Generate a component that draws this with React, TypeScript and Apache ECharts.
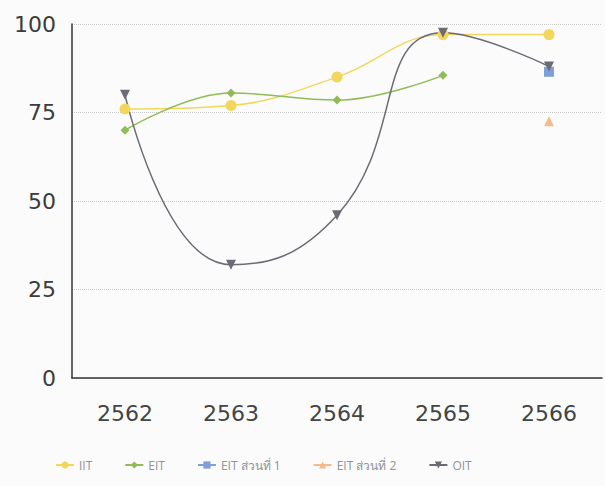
import React, { useEffect, useRef } from "react";
import * as echarts from "echarts";

const years = ["2562", "2563", "2564", "2565", "2566"];
const iit = [76, 77, 85, 97, 97];
const eit = [70, 80.5, 78.5, 85.5, null];
const eitPart1 = [null, null, null, null, 86.5];
const eitPart2 = [null, null, null, null, 72.5];
const oit = [80, 32, 46, 97.5, 88];
const yTicks = [0, 25, 50, 75, 100];

export default function App() {
  const ref = useRef<HTMLDivElement>(null);
  useEffect(() => {
    const chart = echarts.init(ref.current!, null, { renderer: "svg" });
    const font = "Open Sans";
    chart.setOption({
      animation: false,
      backgroundColor: "#fbfbfb",
      textStyle: { fontFamily: font },
      grid: { left: 72, right: 3, top: 24, bottom: 108 },
      legend: {
        left: 50,
        bottom: 10,
        itemGap: 32,
        itemWidth: 18,
        itemHeight: 9,
        textStyle: { color: "#8f939a", fontSize: 12, fontFamily: font },
        data: ["IIT", "EIT", "EIT ส่วนที่ 1", "EIT ส่วนที่ 2", "OIT"],
      },
      xAxis: {
        type: "category",
        data: years,
        boundaryGap: true,
        axisLine: { lineStyle: { color: "#333", width: 1.5 } },
        axisTick: { show: false },
        axisLabel: { color: "#444", fontSize: 22, margin: 24, fontFamily: "DejaVu Sans" },
      },
      yAxis: {
        type: "value",
        min: yTicks[0],
        max: yTicks[yTicks.length - 1],
        interval: 25,
        axisLine: { show: true, lineStyle: { color: "#333", width: 1.5 } },
        axisTick: { show: false },
        axisLabel: { color: "#3c3c3c", fontSize: 22, margin: 16, fontFamily: "DejaVu Sans" },
        splitLine: { lineStyle: { color: "#c8c8c8", type: "dotted", width: 1 } },
      },
      series: [
        {
          name: "IIT",
          type: "line",
          data: iit,
          smooth: 0.4,
          symbol: "circle",
          symbolSize: 11,
          itemStyle: { color: "#f3d75c" },
          lineStyle: { color: "#f3d75c", width: 1.5 },
        },
        {
          name: "EIT",
          type: "line",
          data: eit,
          smooth: 0.4,
          symbol: "diamond",
          symbolSize: 9,
          itemStyle: { color: "#8fbc57" },
          lineStyle: { color: "#8fbc57", width: 1.5 },
        },
        {
          name: "EIT ส่วนที่ 1",
          type: "line",
          data: eitPart1,
          symbol: "rect",
          symbolSize: 10,
          itemStyle: { color: "#7f9fd8" },
          lineStyle: { color: "#7f9fd8", width: 1.5 },
        },
        {
          name: "EIT ส่วนที่ 2",
          type: "line",
          data: eitPart2,
          symbol: "triangle",
          symbolSize: 10,
          itemStyle: { color: "#f4b98c" },
          lineStyle: { color: "#f4b98c", width: 1.5 },
        },
        {
          name: "OIT",
          type: "line",
          data: oit,
          smooth: 0.5,
          symbol: "triangle",
          symbolRotate: 180,
          symbolSize: 10,
          itemStyle: { color: "#6b6b75" },
          lineStyle: { color: "#6b6b75", width: 1.5 },
        },
      ],
    });
    return () => chart.dispose();
  }, []);
  return (
    <div
      ref={ref}
      style={{ position: "absolute", left: 0, top: 0, width: 605, height: 486 }}
    />
  );
}
